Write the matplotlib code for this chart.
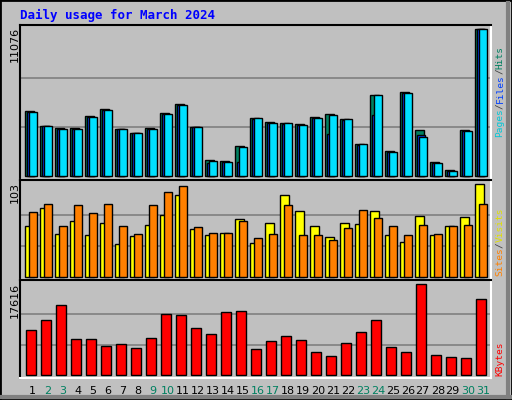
import matplotlib
matplotlib.use("Agg")
import matplotlib.pyplot as plt
from matplotlib.patches import Rectangle
from matplotlib.lines import Line2D

days = list(range(1, 32))
weekend = [2, 3, 9, 10, 16, 17, 23, 24, 30, 31]
hits = [4935, 3805, 3655, 3655, 4559, 5086, 3579, 3278, 3655, 4785, 5463, 3730, 1243, 1168, 2298, 4408,
        4107, 4031, 3956, 4483, 4709, 4333, 2449, 6141, 1921, 6367, 3504, 1093, 490, 3504, 11076]
files = [4860, 3780, 3580, 3580, 4480, 5010, 3540, 3240, 3580, 4710, 5390, 3700, 1017, 1100, 1093, 4330,
         4030, 3960, 3880, 4410, 3202, 4260, 2390, 4634, 1850, 6290, 3127, 1020, 420, 3430, 11076]
pages = [4860, 3805, 3580, 3580, 4480, 5010, 3579, 3278, 3580, 4710, 5390, 3730, 1168, 1093, 2223, 4408,
         4031, 4031, 3880, 4410, 4634, 4333, 2449, 6141, 1846, 6290, 2976, 1020, 415, 3430, 11076]
visits = [57, 77, 48, 62, 47, 60, 37, 45, 58, 69, 91, 53, 47, 49, 64, 38,
          60, 91, 73, 57, 44, 60, 59, 73, 47, 39, 68, 47, 56, 67, 103]
sites = [72, 81, 56, 80, 71, 81, 56, 48, 80, 94, 101, 55, 49, 49, 62, 43,
         48, 80, 47, 47, 41, 54, 74, 66, 56, 47, 58, 48, 57, 58, 81]
kbytes = [8743, 10672, 13565, 7008, 7008, 5658, 6043, 5272, 7200, 11829, 11636, 9129, 7972, 12215, 12408, 5079,
          6622, 7586, 6815, 4500, 3729, 6236, 8358, 10672, 5465, 4500, 17616, 3922, 3536, 3343, 14722]

GRAY = "#C0C0C0"
fig = plt.figure(figsize=(5.12, 4.0), dpi=100, facecolor=GRAY)

def px(x0, y0, x1, y1):
    return [x0/512, 1-y1/400, (x1-x0)/512, (y1-y0)/400]

XMAX = 471/15

def panel(rect, ymax, lo, hi):
    ax = fig.add_axes(px(*rect))
    ax.set_facecolor(GRAY)
    ax.set_xlim(0, XMAX)
    ax.set_ylim(lo, hi)
    for f in (1/3, 2/3):
        ax.axhline(ymax*f, color="#808080", lw=1.2, zorder=0)
    ax.set_xticks([]); ax.set_yticks([])
    ax.spines["top"].set_color("black"); ax.spines["left"].set_color("black")
    ax.spines["bottom"].set_color("white"); ax.spines["right"].set_color("white")
    for s in ax.spines.values():
        s.set_linewidth(1.5)
    return ax

x = [d-1 for d in days]
ax1 = panel((20, 25, 491, 180), 11076, -264, 11377)
ax1.bar([v+0.33 for v in x], hits, width=0.6, align="edge", color="#008060", edgecolor="black", lw=1)
ax1.bar([v+0.46 for v in x], files, width=0.55, align="edge", color="#0040FF", edgecolor="black", lw=1)
ax1.bar([v+0.59 for v in x], pages, width=0.53, align="edge", color="#00E0FF", edgecolor="black", lw=1)

ax2 = panel((20, 180, 491, 280), 103, -3.6, 107.8)
ax2.bar([v+0.35 for v in x], visits, width=0.55, align="edge", color="#FFFF00", edgecolor="black", lw=1)
ax2.bar([v+0.6 for v in x], sites, width=0.52, align="edge", color="#FF8000", edgecolor="black", lw=1)

ax3 = panel((20, 280, 491, 378), 17616, -637, 18446)
ax3.bar([v+0.42 for v in x], kbytes, width=0.66, align="edge", color="#FF0000", edgecolor="black", lw=1)

for d in days:
    ax3.text(d-1+0.85, -0.13, str(d), transform=ax3.get_xaxis_transform(), ha="center", va="center",
             fontsize=8, color="#008060" if d in weekend else "black")

fig.text(20/512, 1-15/400, "Daily usage for March 2024", color="#0000FF", fontsize=9,
         family="DejaVu Sans Mono", fontweight="bold", va="center")

def ylab(y, s):
    fig.text(15/512, 1-y/400, s, rotation=90, ha="center", va="top", fontsize=8)
ylab(27, "11076"); ylab(182, "103"); ylab(283, "17616")

FS = 6.8
STEP = FS*0.602*100/72
def rlab(parts, ybottom):
    y = ybottom
    for s, c in parts:
        fig.text(500/512, 1-y/400, s, rotation=90, ha="center", va="bottom", color=c,
                 fontsize=FS, family="DejaVu Sans Mono")
        y -= len(s)*STEP
rlab([("Pages", "#00C8D8"), ("/", "#404040"), ("Files", "#0040FF"), ("/", "#404040"), ("Hits", "#008060")], 137)
rlab([("Sites", "#FF8000"), ("/", "#404040"), ("Visits", "#E0E000")], 276)
rlab([("KBytes", "#FF0000")], 376)

fig.add_artist(Rectangle((0, 0), 1, 1, transform=fig.transFigure, fill=False, edgecolor="black", lw=2))
fig.add_artist(Line2D([0.004, 0.996], [0.008, 0.008], transform=fig.transFigure, color="#808080", lw=3))
fig.add_artist(Line2D([0.992, 0.992], [0.008, 0.992], transform=fig.transFigure, color="#808080", lw=3))

fig.savefig("out.png", dpi=100, facecolor=GRAY)
